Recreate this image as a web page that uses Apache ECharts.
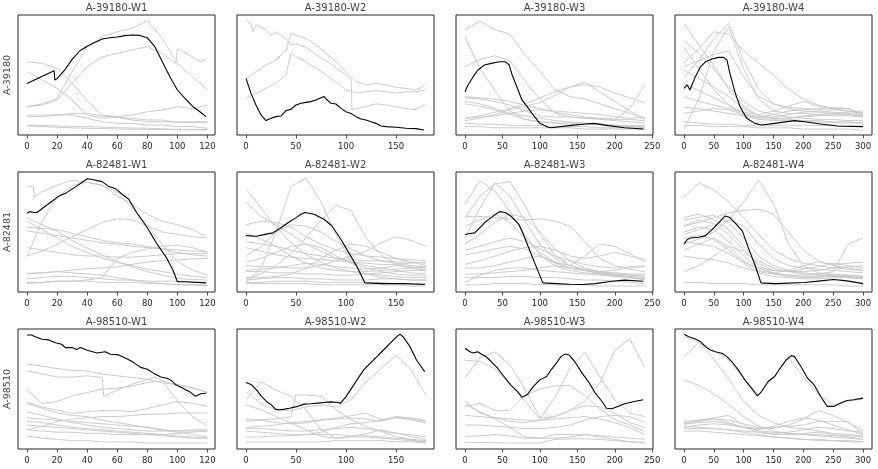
<!DOCTYPE html>
<html><head><meta charset="utf-8">
<script src="https://cdn.jsdelivr.net/npm/echarts@6/dist/echarts.min.js"></script>
<style>html,body{margin:0;padding:0;background:#fff}#c{width:878px;height:469px}</style>
</head><body><div id="c"></div>
<script>
const rowNames = ['A-39180', 'A-82481', 'A-98510'];
const weekNames = ['W1', 'W2', 'W3', 'W4'];
const xTicks = [[0,20,40,60,80,100,120],[0,50,100,150],[0,50,100,150,200,250],[0,50,100,150,200,250,300]];
const xRange = [[-6,125],[-9,188],[-12,251],[-15,315]];
const grayStep = [10, 15, 20, 25];

// ---- highlighted (black) series, [x, value] ----
const black_39180_W1 = [[0,43],[18,53.6],[18.5,45.8],[20,47],[25,54],[30,63],[35,70],[40,74],[45,77],[50,80],[55,81],[60,81.7],[65,82.8],[70,83.3],[75,83],[80,81],[85,73.6],[90,61],[95,48.6],[100,37.5],[105,30.5],[110,24],[115,19.4],[119,15.3]];
const black_39180_W2 = [[0,47.2],[5,34.7],[10,25],[15,16.7],[20,12],[25,13.9],[30,15.3],[35,15.8],[40,20.3],[45,21.4],[50,25],[55,26.4],[60,27.2],[65,27.8],[70,29.2],[75,31],[78,32],[80,30],[85,26.4],[90,25.8],[95,22.2],[100,19.4],[105,18],[110,15.3],[115,13.3],[120,12.5],[125,11],[130,9.7],[135,7.5],[140,7],[150,6.4],[160,5.6],[170,5.3],[178,4.2]];
const black_39180_W3 = [[0,36.1],[4,41.7],[11,48.6],[17,54],[26,58.3],[35,59.7],[46,61],[54,61],[59,58.3],[63,50],[70,38.9],[76,29.2],[83,23.6],[91,16.7],[100,9.7],[111,6.4],[115,6.1],[139,7.8],[161,9.2],[172,9.7],[191,7.8],[213,6.1],[238,5]];
const black_39180_W4 = [[0,38.9],[5.5,41.7],[8,43],[10,37.5],[13,38.9],[19,48.6],[28,57],[36,61],[47,63.3],[58,64.7],[66,64.7],[72,62.5],[77,51.4],[86,34.7],[94,23.6],[105,13.9],[119,9.7],[130,8.3],[152,9.7],[185,12],[202,11],[229,9.2],[257,7.5],[300,7]];
const black_82481_W1 = [[0,65.6],[2,67],[4.4,66.2],[6.6,66.2],[11,70.4],[15.5,74.6],[21,79.7],[26.6,83],[33,88.2],[40,94.4],[44,93.5],[50,92],[54,88.2],[59,86],[63,81.7],[67.5,77.5],[73,66],[80,53.5],[86,40.8],[93,28],[97,18.3],[100,8.5],[106,8.5],[119,7.6]];
const black_82481_W2 = [[0,47],[10.5,46.5],[19,48],[27,49.3],[35,53.5],[42,57.7],[50,62],[55,64.8],[59,66.2],[68,64.8],[78,60.6],[86,55],[95,43.7],[103,32.4],[111,21],[119,7.6],[137,7],[157,7],[179,6.2]];
const black_82481_W3 = [[0,47.9],[6.5,48.7],[13,49.3],[19.6,53.5],[26,57.7],[35,62],[41,64.8],[46,67],[54,66.2],[61,63.4],[72,56.3],[78,47.9],[87,33.8],[96,19.7],[104,7.6],[122,7],[139,6.5],[157,6.2],[174,7],[196,9],[213,9.9],[238,9]];
const black_82481_W4 = [[0,40],[5.5,43.7],[11,45],[25,45.6],[36,47],[47,52],[58,57.7],[69,63.4],[77,62],[88,56.3],[98,50.7],[108,36.6],[119,22.5],[129,7.6],[152,7],[202,7.9],[229,9.3],[251,10.4],[273,9.3],[300,7]];
const black_98510_W1 = [[0,95],[3,95],[5.5,93.6],[10,91.4],[14.4,90.9],[19,88.6],[23,87.3],[25.5,84.5],[30,84.5],[33,83],[35.5,84.5],[40,82.3],[46.7,80],[52,81],[55.5,79],[61,78.4],[66.7,75],[71,72],[75.5,68],[80,66.5],[84.4,63],[89,60],[93,59],[95.5,57.6],[99,53.5],[103,51],[107.8,48],[112,44],[115.6,46],[119,46.5]];
const black_98510_W2 = [[0,55.4],[5.6,53.5],[10.5,49.3],[15.5,43.8],[20.4,39.6],[25.4,36.8],[29.3,33.2],[33.6,32.7],[38.6,33.2],[43.5,34],[48.5,34.9],[53.4,36],[58.4,37.4],[65,37.7],[71.5,38.2],[78,38.8],[84.7,39.3],[91.3,38.8],[94.6,38.2],[99.6,43.2],[104.5,49.3],[111,57.6],[117.7,65.9],[124.3,71.5],[131,77],[137.5,82.5],[144,88],[150.7,93.6],[154,95.6],[157,93.6],[164,85.3],[170.5,74.2],[178.7,64.5]];
const black_98510_W3 = [[0,84],[6.5,81],[11,80],[17,81],[22,78.9],[28,77],[35,72.9],[43.5,67.3],[52,60.4],[61,53.5],[70,48],[76,43.2],[83,45.2],[91,52],[100,57.6],[109,60.4],[115,66],[122,71.5],[128,77],[134,79.2],[139,78.4],[148,71.5],[156.5,63],[165,56],[174,46.5],[183,39.6],[189,34],[196,33.5],[204,35.5],[213,37.7],[226,39.6],[238,41]];
const black_98510_W4 = [[0,95.6],[8,93.6],[19,91.7],[27.6,89.5],[36,85.3],[44,82.5],[52.5,81],[63.5,79.8],[72,77],[80,72.9],[91,66],[102,57.6],[113,50.7],[123,44.3],[130,47.9],[141,56.2],[152,60.4],[163,68.7],[171,74.2],[180,77.8],[185,77],[196,68.7],[207,59],[218,53.5],[229,43.8],[240,35.5],[251,35.5],[262,38.2],[273,40.4],[284.5,41],[300,42.4]];

// ---- background (gray) series: value lists at the column step, or [x, value] lists ----
const gray_39180_W1 = [
  [23.6,26,30.5,52.8,73.6,82,86,89,95,80.5,59.7,48.6,37.5],
  [61,59.7,55.6,43,29,16.7,15.3,16.7,19.4,20.8,23.6,22,25],
  [52.8,45.8,38.9,29,16.7,13.9,14.7,12.5,11,11,11,11,11],
  [[0,23.6],[10,25],[20,29],[30,43],[40,57],[50,65],[60,68],[70,71],[80,73.6],[90,68],[99,59.7],[100,72],[110,65],[115,61],[119,63]],
  [16.7,16.7,16.7,18,18,15.8,14.7,13.9,12.5,12.5,10.3,10.3,10.3],
  [15.3,15.3,16.7,16.7,13.9,11,9.7,9.7,8.3,8.3,7,7,5.6],
  [8.3,8,7.5,7.2,7,6.5,6.1,5.8,5.6,5.2,4.7,4.7,4.7],
  [7.5,7,6.5,6,5.6,5.3,5,4.8,4.7,4.5,4.4,4.3,4.2]
];
const gray_39180_W2 = [
  [[0,95.8],[5,93],[7,86],[10,91.7],[20,88],[25,83],[30,86],[40,80],[45,75],[50,76],[60,73],[70,67],[80,62],[90,56],[100,50],[105,47],[106,21],[110,22],[120,23.6],[130,26],[140,25],[150,23.6],[160,22],[170,21],[179,25.8]],
  [[0,47.2],[10,52.8],[20,58.3],[30,62.5],[40,70.8],[45,84.7],[50,83],[60,80.5],[70,75],[80,68],[90,61],[100,52.8],[110,44.4],[120,41.7],[130,43],[140,41.7],[150,39.7],[160,38.9],[170,37.5],[179,41.7]],
  [[0,30.5],[10,34.7],[20,38.9],[30,43],[40,50],[45,68],[50,65.3],[60,61],[70,55.6],[80,50],[90,44.4],[100,37.5],[110,35],[120,36],[130,37],[140,36],[150,35],[160,36],[170,36],[179,37.5]]
];
const gray_39180_W3 = [
  [87.5,95,88,84,67,53,38,32,30,26,22,18,14],
  [82,55,37,20,13,11,10,10,9,9,8,7,6],
  [57,63,66,62,45,30,18,15,14,13,12,11,10],
  [14,16,19,22,26,31,36,40,42,40,35,31,27],
  [12,14,17,21,24,27,33,40,44,36,28,20,13],
  [32,31,30,28,25,22,19,17,15,14,13,22,42],
  [31,30,28,25,20,16,15,15,14,14,13,13,12],
  [26,24,21,18,16,14,12,11,10,9,8,7,7],
  [10,9,9,8,8,8,7,7,7,6,6,6,5],
  [7,7,6,6,6,6,6,6,5,5,5,5,5],
  [14,15,16,18,20,21,20,19,18,17,15,14,15],
  [28,26,22,17,13,11,10,9,9,9,8,8,8]
];
const gray_39180_W4 = [
  [48,62,80,93,62,38,26,22,20,19,18,17,16],
  [93,75,58,38,24,16,14,13,12,12,11,11,10],
  [60,72,86,84,70,60,50,38,30,25,22,20,18],
  [57,62,67,70,48,32,26,23,22,21,21,20,18],
  [73,55,38,25,16,13,12,12,11,11,10,10,10],
  [5,30,70,90,55,30,20,18,18,17,16,16,15],
  [54,47,40,32,22,16,14,14,15,16,17,17,16],
  [43,37,31,25,18,15,15,17,19,20,19,18,17],
  [32,28,25,22,19,17,20,24,28,24,22,22,18],
  [23,22,20,18,16,15,17,20,21,22,23,22,15],
  [11,10,9,9,8,8,8,8,8,8,8,7,7],
  [8,8,7,7,7,6,6,6,5,5,5,5,4],
  [18,20,22,21,17,14,13,14,16,17,18,19,20],
  [79,68,55,40,28,20,17,15,14,13,13,12,12]
];
const gray_82481_W1 = [
  [[0,88],[4,88],[5,79],[10,83.6],[20,89],[30,93],[40,91.5],[50,89],[60,80],[70,73],[80,64.8],[90,59],[100,56],[110,52],[119,46.5]],
  [29.6,59,78.9,88.7,91.5,88.7,83,70,56,39.4,25.4,18.3,14],
  [62,56,50.7,43,36.6,31,25,21,17,14,11.3,10.5,9.9],
  [59,52,45,38,33,28,25,22,19,17,15,13,12],
  [30,34,40,46,52,58,61,60,55,50,48,46,45],
  [54,53,52,49,46,43,41,40,38,36,33,31,30],
  [51,49,47,45,43,41,40,38,37,36,35,34,34],
  [37,35,33,31,30,30,29,29,30,31,32,32,32],
  [7,8,9,9,10,12,28,33,36,38,39,37,33],
  [11,12,13,13,12,11,10,10,9,9,9,8,8],
  [8,8,9,9,9,8,8,8,7,7,6,6,6],
  [15,16,17,16,15,14,12,10,8,7,6,6,5],
  [15.5,16,17,18.3,19.5,20,21,23,25,26,26.8,27.5,28]
];
const gray_82481_W2 = [
  [8,20,50,88,95,75,48,25,15,12,11,10,10],
  [86,70,54,41,31,25,20,17,15,14,13,12,12],
  [75,63,56,48,40,34,28,25,22,20,18,16,15],
  [11,15,22,32,45,60,72,68,45,31,23,20,18],
  [22,21,21,20,20,22,26,30,34,41,46,43,38],
  [56,59,58,54,46,40,35,32,30,29,28,27,26],
  [42,40,38,35,32,30,28,27,26,26,25,25,24],
  [37,34,31,29,28,27,26,25,24,23,23,24,25],
  [18,19,20,22,24,23,21,20,19,20,22,21,20],
  [17,17,16,16,15,15,14,14,15,16,17,18,18],
  [10,11,12,12,11,11,10,10,10,11,11,10,10],
  [8,8,9,9,9,8,8,8,8,8,7,7,7],
  [7,7,7,7,7,6,6,6,6,6,6,5,5],
  [30,38,50,56,55,50,42,36,30,26,24,22,21],
  [49,44,38,30,24,20,18,17,17,18,19,20,20],
  [12,12,13,15,20,28,35,40,38,33,28,25,22],
  [25,28,33,38,40,37,30,24,20,17,15,14,14]
];
const gray_82481_W3 = [
  [62,80,90,92,72,48,31,22,18,15,13,12,11],
  [73,93,84,67,48,31,22,18,16,15,14,13,12],
  [45,70,91,80,59,40,28,22,19,17,15,14,13],
  [63,63,62,61,60,61,59,55,42,28,22,19,17],
  [20,20,22,25,28,30,25,22,30,40,38,32,25],
  [23,26,30,34,37,38,35,30,28,30,33,30,27],
  [35,38,42,45,42,36,30,26,23,21,20,21,22],
  [31,33,36,38,36,30,24,20,18,17,18,20,21],
  [8,14,18,20,20,18,17,16,15,14,13,12,11],
  [6,6,7,7,7,6,6,6,6,5,5,5,5],
  [55,60,65,58,45,33,25,20,18,16,15,14,14],
  [40,48,58,65,62,50,36,26,20,17,16,15,15],
  [15,15,16,17,18,20,22,20,18,16,14,12,10],
  [12,12,12,13,13,12,12,11,10,10,9,8,7]
];
const gray_82481_W4 = [
  [79,91,85,75,62,48,35,28,24,22,20,19,18],
  [40,44,50,60,75,93,74,40,22,16,14,13,12],
  [55,58,62,66,68,69,65,50,35,26,22,20,18],
  [30,28,27,24,20,17,15,14,14,15,17,40,45],
  [60,62,64,58,45,30,22,18,16,15,15,14,13],
  [55,60,57,48,35,22,16,14,13,13,14,14,13],
  [50,54,52,42,30,20,15,13,12,12,13,13,12],
  [45,47,44,35,24,16,13,12,11,11,12,12,11],
  [17,22,30,38,34,24,18,17,19,21,24,22,20],
  [35,40,45,38,26,18,16,18,22,25,23,24,25],
  [8,8,7,7,7,6,6,6,6,6,6,5,5],
  [62,65,60,52,38,26,20,17,15,14,13,12,11],
  [48,52,56,60,55,40,28,22,20,19,18,17,16],
  [42,40,38,32,25,20,18,17,17,18,20,21,22]
];
const gray_98510_W1 = [
  [71,69,67,65.6,65,62.3,61,59.6,58,55,54,51,47.4],
  [[0,65],[10,62.6],[20,60],[30,60],[40,61],[50,59.6],[51,44],[60,49],[70,54],[80,58],[85,60],[90,57],[100,40],[110,27],[119,20]],
  [49,38,39.6,44.3,47,49.9,50.7,52.6,55.4,56.8,52.6,51.2,47],
  [39,35,32.4,29.6,31,32,32,31,33.8,36.8,39.6,38,35.5],
  [38,34,30,28,27,24,22,20,18,16,15,15,15],
  [31,28,25,22,20,18,17,16,15,15,15,16,16],
  [26,25,24,23,22,21,20,19,18,16,14,12,10],
  [23,22,20,18,17,16,15,14,13,12,11,10,9],
  [16,19,23,25,26,27,27,28,29,29,30,30,30],
  [11,9,8,7,7,6,6,6,5,5,5,5,5],
  [20,19,18,17,16,15,14,13,12,11,10,9,9],
  [16,15,14,14,13,13,12,12,12,12,13,14,15]
];
const gray_98510_W2 = [
  [48,38,32.4,32,35,36.8,35,41,56,67,78,66,45],
  [41,56,49,43.8,32.7,16,9,10,10,9,8,7,6],
  [[0,24.4],[15,24.4],[30,25],[45,27],[50,45],[60,45],[75,44],[90,32.7],[105,24.4],[120,18.8],[135,14.7],[150,10.5],[165,7.8],[179,5.5]],
  [36.8,32.7,27,21.6,16,10.5,9,10.5,12.7,16,13.3,10.5,7.8],
  [23,24,22,21,21.6,24.4,25.8,27.7,30,24.4,26.6,24.4,21.6],
  [18,19,20,22,23,24,25,26,25,23,27,26,24],
  [15,14,13,12,12,14,18,21,22,24,26,25,23],
  [17,17,16,15,15,16,17,18,17,15,13,12,10],
  [10,10,11,11,12,12,12,11,11,10,9,8,7],
  [6,6,6,6,6,6,7,7,7,7,6,6,5]
];
const gray_98510_W3 = [
  [59,76,81,70,50,26,27,32,40,55,82,92,68],
  [74,73,67,54,40,25,43,67,80.6,60,41,30,27],
  [35.5,38,32,32,44.6,50,52.6,53,44.6,33.5,24.4,20,14.7],
  [39.6,30,26,23,22,24,27,32,36,35,30,22,18],
  [37,31,25,18,10,9,9,10,12,11,10,9,8],
  [10.5,11,12,11,9,9,12,12,12,10,8,6,5],
  [5.5,5.5,5.3,5,5,5,8,8.5,8.5,8,7,6,5.5],
  [20,20,19,18,17,17,18,20,24,27,28,27,22],
  [28,27,26,25,24,24,25,26,27,25,22,18,12]
];
const gray_98510_W4 = [
  [93.6,88.5,82.5,74,59,45,60,76,60,46,37,40,41.5],
  [77,89,75,58,40,28,22,18,17,15,13,12,11],
  [57.6,53,46,37,27,19,15,13,12,11,10,9,8],
  [22,23,25,24,21,18,17,20,25,32,28,22,15],
  [23,24,26,28,20,15,14,13,12,12,11,11,10],
  [20,24,25,22,18,16,19,23,26,24,20,16,12],
  [18,20,21,20,18,17,18,19,20,23,23,23,12],
  [17,17,17,16,15,14,13,14,16,18,17,15,14],
  [15,15,14,13,12,11,10,9,8,8,7,7,6],
  [19,18,17,16,14,12,10,9,8,7,7,6,6],
  [21,22,23,21,18,14,12,12,13,14,12,10,8]
];

const panelBlack = [
  [black_39180_W1, black_39180_W2, black_39180_W3, black_39180_W4],
  [black_82481_W1, black_82481_W2, black_82481_W3, black_82481_W4],
  [black_98510_W1, black_98510_W2, black_98510_W3, black_98510_W4]
];
const panelGray = [
  [gray_39180_W1, gray_39180_W2, gray_39180_W3, gray_39180_W4],
  [gray_82481_W1, gray_82481_W2, gray_82481_W3, gray_82481_W4],
  [gray_98510_W1, gray_98510_W2, gray_98510_W3, gray_98510_W4]
];

// ---- layout ----
const colLeft = [18, 237, 456, 675];
const colWidth = 197;
const rowTop = [15, 172, 329];
const rowHeight = 120;

function toPts(line, step) {
  if (typeof line[0] === 'number') return line.map((v, i) => [i * step, v]);
  return line;
}

const grids = [], xAxes = [], yAxes = [], titles = [], series = [];
rowNames.forEach((rn, ri) => {
  weekNames.forEach((wn, ci) => {
    const k = ri * 4 + ci;
    grids.push({left: colLeft[ci], top: rowTop[ri], width: colWidth, height: rowHeight,
      show: true, borderColor: '#262626', borderWidth: 1, backgroundColor: 'transparent'});
    xAxes.push({type: 'value', gridIndex: k, min: xRange[ci][0], max: xRange[ci][1],
      axisLine: {show: false},
      axisTick: {show: true, length: 3.5, lineStyle: {color: '#262626', width: 0.8}, customValues: xTicks[ci]},
      axisLabel: {show: true, fontSize: 8.5, color: '#262626', margin: 7, fontFamily: 'DejaVu Sans', customValues: xTicks[ci]},
      splitLine: {show: false}});
    yAxes.push({type: 'value', gridIndex: k, min: 0, max: 100,
      axisLine: {show: false}, axisTick: {show: false}, axisLabel: {show: false}, splitLine: {show: false},
      name: ci === 0 ? rn : '', nameLocation: 'middle', nameGap: 5, nameRotate: 90,
      nameTextStyle: {fontSize: 9.5, color: '#444', fontFamily: 'DejaVu Sans'}});
    titles.push({text: rn + '-' + wn, left: colLeft[ci] + colWidth / 2, top: rowTop[ri] - 12,
      textAlign: 'center', padding: 0,
      textStyle: {fontSize: 10, fontWeight: 'normal', color: '#444', fontFamily: 'DejaVu Sans'}});
    panelGray[ri][ci].forEach(line => {
      series.push({type: 'line', xAxisIndex: k, yAxisIndex: k, data: toPts(line, grayStep[ci]),
        showSymbol: false, symbol: 'none', silent: true, z: 2,
        lineStyle: {color: '#c6c6c6', width: 0.9}});
    });
    series.push({type: 'line', xAxisIndex: k, yAxisIndex: k, data: panelBlack[ri][ci],
      showSymbol: false, symbol: 'none', silent: true, z: 3,
      lineStyle: {color: '#000000', width: 1.1}});
  });
});

const chart = echarts.init(document.getElementById('c'));
chart.setOption({
  animation: false,
  backgroundColor: '#ffffff',
  title: titles,
  grid: grids,
  xAxis: xAxes,
  yAxis: yAxes,
  series: series
});
</script>
</body></html>
